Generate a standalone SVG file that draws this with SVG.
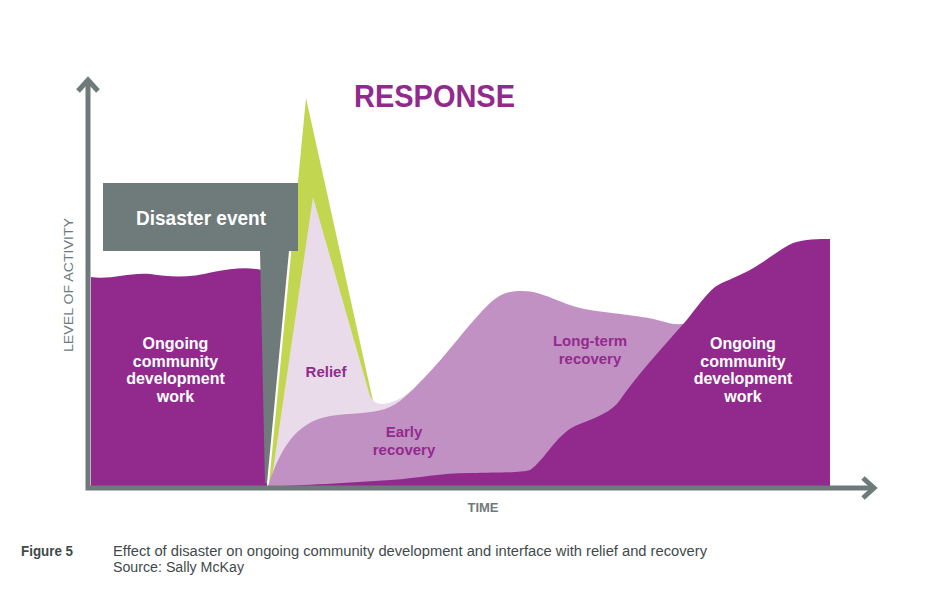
<svg xmlns="http://www.w3.org/2000/svg" width="926" height="600" viewBox="0 0 926 600">
<style>
.axis{fill:none;stroke:#6f7b7b;stroke-width:5;stroke-linejoin:miter}
.lbl{font-family:"Liberation Sans",Arial,sans-serif;font-weight:bold;text-anchor:middle}
.w{fill:#ffffff;font-size:16px}
.p{fill:#922a8e;font-size:15px}
.cap{font-family:"Liberation Sans",Arial,sans-serif;fill:#3f4a4a;font-size:14px}
</style>
<rect width="926" height="600" fill="#ffffff"/>
<g id="ongoing-left">
<path d="M91,277 C110,280 130,272 150,274 C170,277 190,278 213,272 C232,268 250,267 262,270 L267,487 L91,487 Z" fill="#922a8e"/>
<text class="lbl w" x="175.5" y="349">Ongoing</text>
<text class="lbl w" x="175.5" y="366.5">community</text>
<text class="lbl w" x="175.5" y="384">development</text>
<text class="lbl w" x="175.5" y="401.5">work</text>
</g>
<g id="response">
<path d="M269,484 L306,98 L373,401 L340,450 Z" fill="#c3d64f"/>
<text x="434.5" y="107" font-family="Liberation Sans,Arial,sans-serif" font-weight="bold" font-size="31" fill="#922a8e" text-anchor="middle" textLength="161" lengthAdjust="spacingAndGlyphs">RESPONSE</text>
</g>
<g id="relief">
<path d="M271,484 L313,197 L370,396 Q374,404 382,404 Q397,403 412,390 L412,440 L300,470 Z" fill="#e9dbea"/>
<text class="lbl p" x="326" y="377">Relief</text>
</g>
<g id="recovery">
<path d="M268,486 C280,450 295,422 330,416 C350,413 370,414 385,409 C400,404 410,392 425,377 C445,357 470,322 490,303 C502,292 512,291 522,291 C545,291 560,305 590,310 C625,315 645,316 665,322 C675,325 682,325 690,322 L690,486 Z" fill="#c291c3"/>
<text class="lbl p" x="404" y="437">Early</text>
<text class="lbl p" x="404" y="455">recovery</text>
<text class="lbl p" x="590" y="346">Long-term</text>
<text class="lbl p" x="590" y="363.5">recovery</text>
</g>
<g id="ongoing-right">
<path d="M268,487 C300,485 350,483 390,480 C420,478 440,473 470,473 C500,472 520,473 530,470 C545,460 555,436 575,426 C595,418 612,412 620,400 C635,378 660,350 685,322 C695,310 705,295 715,287 C722,282 735,278 750,270 C765,262 778,250 793,243 C805,239 818,239 830,239 L830,487 Z" fill="#922a8e"/>
<text class="lbl w" x="743" y="349">Ongoing</text>
<text class="lbl w" x="743" y="366.5">community</text>
<text class="lbl w" x="743" y="384">development</text>
<text class="lbl w" x="743" y="401.5">work</text>
</g>
<g id="disaster-event">
<path d="M103,183 H298 V251 H289 L267,483 L265,483 L260,251 H103 Z" fill="#6f7b7b"/>
<text class="lbl" x="201" y="225" fill="#ffffff" font-size="20" textLength="130" lengthAdjust="spacingAndGlyphs">Disaster event</text>
</g>
<g id="axes">
<path class="axis" d="M88,81 V488 H874"/>
<path class="axis" d="M78,91 L88,80 L98,91"/>
<path class="axis" d="M863,478 L874,488 L863,498"/>
<text class="lbl" x="483" y="512" fill="#6f7b7b" font-size="13">TIME</text>
<text x="0" y="0" transform="translate(73,285) rotate(-90)" font-family="Liberation Sans,Arial,sans-serif" font-size="12.5" fill="#6f7b7b" text-anchor="middle" textLength="134" lengthAdjust="spacingAndGlyphs">LEVEL OF ACTIVITY</text>
</g>
<g id="caption">
<text class="cap" x="21" y="556" font-weight="bold" textLength="52" lengthAdjust="spacingAndGlyphs">Figure 5</text>
<text class="cap" x="113" y="556" textLength="594" lengthAdjust="spacingAndGlyphs">Effect of disaster on ongoing community development and interface with relief and recovery</text>
<text class="cap" x="113" y="572" textLength="131" lengthAdjust="spacingAndGlyphs">Source: Sally McKay</text>
</g>
</svg>
